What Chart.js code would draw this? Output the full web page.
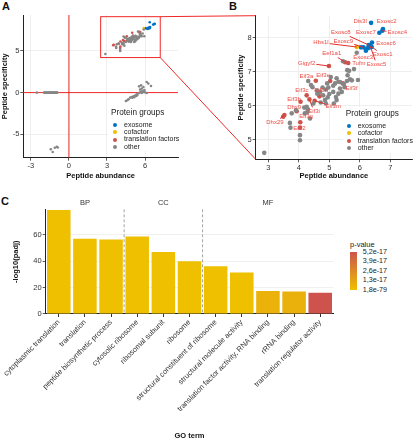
<!DOCTYPE html>
<html>
<head>
<meta charset="utf-8">
<script src="https://cdn.jsdelivr.net/npm/chart.js@4.4.1/dist/chart.umd.min.js"></script>
<style>
  body { margin: 0; width: 420px; height: 440px; background: #fff; position: relative; overflow: hidden;
         font-family: "Liberation Sans", Arial, sans-serif; color: #222; }
  canvas { position: absolute; }
  .tag { position: absolute; font-weight: bold; font-size: 11px; line-height: 11px; color: #111; }
  .box { position: absolute; background: #fff; }
  .txt { position: absolute; white-space: nowrap; }
</style>
</head>
<body>
<div class="tag" style="left:2px;top:1px">A</div>
<div class="tag" style="left:229px;top:1px">B</div>
<div class="tag" style="left:1px;top:196px">C</div>
<canvas id="chartA" width="210" height="190" style="left:0;top:0"></canvas>
<canvas id="chartB" width="210" height="190" style="left:210px;top:0"></canvas>
<canvas id="chartC" width="345" height="242" style="left:0;top:198px"></canvas>
<canvas id="overlay" width="420" height="440" style="left:0;top:0;pointer-events:none;z-index:1"></canvas>
<script>
// protein groups
const groupNames = ["exosome", "cofactor", "translation factors", "other"];
const groupColors = ["#0073C2", "#EFC000", "#CD534C", "#868686"];

// upper cluster (shown in A and zoomed in B)
const exosomeAbund = [6.37, 6.76, 6.74, 6.64, 6.40, 6.29, 6.34, 6.39, 6.30, 6.25, 6.12, 6.20, 6.04];
const exosomeSpec = [8.44, 8.26, 8.21, 8.15, 7.86, 7.79, 7.76, 7.73, 7.71, 7.69, 7.72, 7.62, 7.72];
const cofactorAbund = [5.90];
const cofactorSpec = [7.73];
const factorAbund = [5.52, 5.62, 4.99, 4.56, 5.03, 5.44, 4.26, 4.68, 4.06, 4.52, 4.35, 3.93, 4.05, 3.53, 4.04, 3.49];
const factorSpec = [7.28, 7.26, 7.17, 6.74, 6.73, 6.66, 6.31, 6.28, 6.12, 6.15, 6.19, 5.84, 5.52, 5.73, 5.36, 5.68];
const otherAbund = [5.90, 5.45, 5.59, 5.65, 5.81, 5.68, 5.74, 5.94, 5.58, 5.48, 5.24, 5.30, 5.19, 5.13, 4.93, 4.97,
  4.89, 4.78, 4.70, 4.80, 4.61, 4.31, 4.40, 5.13, 5.22, 5.24, 5.15, 4.86, 4.89, 5.35, 5.41, 5.30, 4.48, 4.26, 4.28,
  4.20, 3.91, 3.77, 3.71, 3.73, 4.37, 4.04, 4.04, 2.87, 5.05, 5.60, 5.00, 4.95, 4.60, 4.45, 4.30, 5.50, 5.35, 4.72, 4.18];
const otherSpec = [7.56, 7.31, 7.05, 7.03, 7.08, 6.78, 6.75, 6.76, 6.73, 6.65, 6.81, 6.71, 6.66, 6.59, 6.66, 6.54,
  6.48, 6.54, 6.41, 6.31, 6.36, 6.73, 6.61, 6.41, 6.26, 6.17, 6.07, 6.17, 6.07, 6.51, 6.41, 6.36, 6.07, 5.97, 5.82,
  5.78, 5.87, 5.78, 5.50, 5.36, 5.63, 5.14, 4.99, 4.62, 6.85, 6.90, 6.35, 6.25, 6.45, 6.55, 5.90, 6.55, 6.70, 6.10, 5.95];

// other clusters only in A (all "other")
const midAbund = [4.49, 4.62, 4.70, 4.83, 4.96, 5.09, 5.22, 5.35, 5.40, 5.53, 5.74, 5.87, 6.00, 6.13,
  5.61, 5.74, 5.53, 5.69, 5.87, 6.13, 6.26, 6.47, 5.30, 5.15, 5.00, 5.80, 5.95, 5.65];
const midSpec = [-1.00, -0.90, -0.80, -0.60, -0.52, -0.44, -0.36, -0.20, -0.30, -0.05, -0.05, 0.07, 0.04, -0.05,
  0.36, 0.48, 0.75, 0.87, 0.67, 1.27, 1.08, 0.79, -0.40, -0.55, -0.62, 0.20, 0.30, 0.10];
const lineAbund = [-2.53, -1.97, -1.91, -1.86, -1.79, -1.73, -1.68, -1.61, -1.55, -1.50, -1.43, -1.37, -1.31,
  -1.26, -1.19, -1.13, -1.07, -1.02, -0.96, -0.92];
const lineSpec = [0, 0, 0, 0, 0, 0, 0, 0, 0, 0, 0, 0, 0, 0, 0, 0, 0, 0, 0, 0];
const lowAbund = [-1.43, -1.28, -1.12, -0.96, -0.88];
const lowSpec = [-6.78, -7.12, -6.60, -6.48, -6.58];

// zoom window drawn in A
const zoomAbund = [2.5, 7.2];
const zoomSpec = [4.2, 9.1];

// ticks
const ticksAX = [-3, 0, 3, 6];
const ticksAY = [-5, 0, 5];
const ticksBX = [3, 4, 5, 6, 7];
const ticksBY = [5, 6, 7, 8];

// gene labels in B: name, group, index in its group, label anchor
const geneNames = ["Dis3l", "Exosc2", "Exosc4", "Exosc7", "Exosc6", "Exosc8", "Exosc5", "Exosc1", "Exosc9", "Exosc3",
  "Hbs1l", "Eef1a1", "Tufm", "Gigyf2", "Eif3a", "Eif3e", "Eif3f", "Eif3c", "Eif3h", "Eif3b", "Eif3m", "Eif3i",
  "Dhx9", "Eif3g", "Dhx29", "Eef2"];
const geneGroup = [0, 0, 0, 0, 0, 0, 0, 0, 0, 0, 1, 2, 2, 2, 2, 2, 2, 2, 2, 2, 2, 2, 2, 2, 2, 2];
const geneIndex = [0, 1, 2, 3, 4, 5, 6, 7, 10, 11, 0, 0, 1, 2, 3, 4, 5, 6, 7, 8, 9, 10, 11, 12, 13, 14];
const labelAbund = [6.01, 6.88, 7.23, 6.20, 6.86, 5.38, 6.55, 6.75, 5.46, 6.11, 4.73, 5.08, 5.97, 4.26, 4.25, 4.80,
  5.73, 4.10, 4.73, 3.85, 5.13, 4.50, 3.85, 4.24, 3.22, 4.02];
const labelSpec = [8.47, 8.47, 8.15, 8.16, 7.84, 8.16, 7.22, 7.51, 7.91, 7.44, 7.86, 7.54, 7.25, 7.26, 6.87, 6.90,
  6.51, 6.46, 6.46, 6.20, 5.99, 5.84, 5.95, 5.70, 5.51, 5.35];

// GO enrichment (C)
const goTerms = ["cytoplasmic translation", "translation", "peptide biosynthetic process", "cytosolic ribosome",
  "ribosomal subunit", "ribosome", "structural constituent of ribosome", "structural molecule activity",
  "translation factor activity, RNA binding", "rRNA binding", "translation regulator activity"];
const goOntology = ["BP", "BP", "BP", "CC", "CC", "CC", "MF", "MF", "MF", "MF", "MF"];
const goScore = [79, 57.1, 56.6, 58.9, 47, 40, 36.2, 31.5, 17.4, 17.1, 16.1];
const goPValue = [1.8e-79, 1e-57, 1e-57, 1e-59, 1e-47, 1e-40, 1e-36, 1e-32, 6.5e-18, 7.5e-18, 5.2e-17];
const ticksCY = [0, 20, 40, 60];
const pTickValues = [5.2e-17, 3.9e-17, 2.6e-17, 1.3e-17, 1.8e-79];
const pTickLabels = ["5,2e-17", "3,9e-17", "2,6e-17", "1,3e-17", "1,8e-79"];

Chart.defaults.font.family = '"Liberation Sans", Arial, sans-serif';

const pts = (xs, ys) => xs.map((x, i) => ({ x: x, y: ys[i] }));

const axis = (min, max, ticks, title, size, titlePad) => ({
  type: "linear",
  min: min,
  max: max,
  afterBuildTicks: (s) => { s.ticks = ticks.map((v) => ({ value: v })); },
  afterFit: (s) => { if (s.isHorizontal()) s.height = size; else s.width = size; },
  border: { display: true, color: "#222", width: 1 },
  grid: { color: "#ebebeb", lineWidth: 0.8, tickColor: "#333", tickLength: 3 },
  ticks: { color: "#333", font: { size: 7.5 }, padding: 1 },
  title: { display: true, text: title, color: "#111", font: { size: 7.5, weight: "bold" }, padding: titlePad },
});

const scatterSets = (groups, r) => groups.map((g, i) => ({
  data: g,
  pointRadius: r,
  pointBorderWidth: 0,
  pointBackgroundColor: groupColors[i],
  borderColor: groupColors[i],
}));

// red reference lines and zoom box in A
const refPlugin = {
  id: "ref",
  beforeDatasetsDraw(chart) {
    const { ctx, chartArea: a, scales: { x, y } } = chart;
    ctx.save();
    ctx.strokeStyle = "#F02828";
    ctx.lineWidth = 1;
    ctx.beginPath();
    ctx.moveTo(x.getPixelForValue(0), a.top);
    ctx.lineTo(x.getPixelForValue(0), a.bottom);
    ctx.moveTo(a.left, y.getPixelForValue(0));
    ctx.lineTo(a.right, y.getPixelForValue(0));
    ctx.stroke();
    ctx.restore();
  },
  afterDatasetsDraw(chart) {
    const { ctx, scales: { x, y } } = chart;
    const l = x.getPixelForValue(zoomAbund[0]), r = x.getPixelForValue(zoomAbund[1]);
    const t = y.getPixelForValue(zoomSpec[1]), b = y.getPixelForValue(zoomSpec[0]);
    ctx.save();
    ctx.strokeStyle = "#F02828";
    ctx.lineWidth = 1;
    ctx.strokeRect(l, t, r - l, b - t);
    ctx.restore();
  },
};

const groupAbund = [exosomeAbund, cofactorAbund, factorAbund];
const groupSpec = [exosomeSpec, cofactorSpec, factorSpec];

// gene labels with repel-like segments in B
const labelPlugin = {
  id: "labels",
  afterDatasetsDraw(chart) {
    const { ctx, scales: { x, y } } = chart;
    ctx.save();
    ctx.font = '6px "Liberation Sans", Arial, sans-serif';
    ctx.textAlign = "center";
    ctx.textBaseline = "middle";
    geneNames.forEach((name, i) => {
      const g = geneGroup[i], k = geneIndex[i];
      const px = x.getPixelForValue(groupAbund[g][k]);
      const py = y.getPixelForValue(groupSpec[g][k]);
      const lx = x.getPixelForValue(labelAbund[i]);
      const ly = y.getPixelForValue(labelSpec[i]);
      const w = ctx.measureText(name).width / 2 + 1, h = 4;
      const dx = px - lx, dy = py - ly;
      const t = Math.min(dx ? w / Math.abs(dx) : 99, dy ? h / Math.abs(dy) : 99);
      if (t < 1 && Math.hypot(dx, dy) * (1 - t) > 4) {
        ctx.strokeStyle = "#E0302C";
        ctx.lineWidth = 1;
        ctx.beginPath();
        ctx.moveTo(lx + dx * t, ly + dy * t);
        ctx.lineTo(px, py);
        ctx.stroke();
      }
      ctx.fillStyle = "#EE4A44";
      ctx.fillText(name, lx, ly);
    });
    ctx.restore();
  },
};

const chartA = new Chart(document.getElementById("chartA"), {
  type: "scatter",
  data: {
    datasets: scatterSets([
      pts(exosomeAbund, exosomeSpec),
      pts(cofactorAbund, cofactorSpec),
      pts(factorAbund, factorSpec),
      pts(otherAbund.concat(midAbund, lineAbund, lowAbund), otherSpec.concat(midSpec, lineSpec, lowSpec)),
    ], 1.3).reverse(),
  },
  options: {
    animation: false,
    responsive: false,
    layout: { padding: { left: 0, top: 15, right: 32, bottom: 9.7 } },
    plugins: { legend: { display: false }, tooltip: { enabled: false } },
    scales: {
      x: axis(-3.6, 8.6, ticksAX, "Peptide abundance", 22.6, { top: 0, bottom: 0 }),
      y: axis(-7.8, 9.3, ticksAY, "Peptide specificity", 23.3, { top: 0, bottom: 0 }),
    },
  },
  plugins: [refPlugin],
});

const chartB = new Chart(document.getElementById("chartB"), {
  type: "scatter",
  data: {
    datasets: scatterSets([
      pts(exosomeAbund, exosomeSpec),
      pts(cofactorAbund, cofactorSpec),
      pts(factorAbund, factorSpec),
      pts(otherAbund, otherSpec),
    ], 2.3).reverse(),
  },
  options: {
    animation: false,
    responsive: false,
    layout: { padding: { left: 24, top: 15.7, right: 8, bottom: 9.7 } },
    plugins: { legend: { display: false }, tooltip: { enabled: false } },
    scales: {
      x: axis(2.59, 7.71, ticksBX, "Peptide abundance", 21, { top: 0, bottom: 0 }),
      y: axis(4.43, 8.65, ticksBY, "Peptide specificity", 21.7, { top: 2, bottom: 0 }),
    },
  },
  plugins: [labelPlugin],
});

// p-value colour scale
const pMin = Math.min(...pTickValues), pMax = Math.max(...pTickValues);
const lowRGB = [239, 192, 0], highRGB = [205, 83, 76];
const pColor = (p) => {
  const t = Math.max(0, Math.min(1, (p - pMin) / (pMax - pMin)));
  const c = lowRGB.map((v, i) => Math.round(v + (highRGB[i] - v) * t));
  return `rgb(${c[0]},${c[1]},${c[2]})`;
};

// dashed facet separators and strip labels
const facetPlugin = {
  id: "facets",
  afterDraw(chart) {
    const { ctx, chartArea: a, scales: { x } } = chart;
    ctx.save();
    ctx.strokeStyle = "#9a9a9a";
    ctx.lineWidth = 0.9;
    ctx.setLineDash([3, 2]);
    let start = 0;
    ctx.font = '7.5px "Liberation Sans", Arial, sans-serif';
    ctx.fillStyle = "#333";
    ctx.textAlign = "center";
    ctx.textBaseline = "middle";
    for (let i = 1; i <= goOntology.length; i++) {
      if (i === goOntology.length || goOntology[i] !== goOntology[i - 1]) {
        const cx = (x.getPixelForValue(start) + x.getPixelForValue(i - 1)) / 2;
        ctx.fillText(goOntology[start], cx, a.top - 6);
        if (i < goOntology.length) {
          const sx = (x.getPixelForValue(i - 1) + x.getPixelForValue(i)) / 2;
          ctx.beginPath();
          ctx.moveTo(sx, a.top);
          ctx.lineTo(sx, a.bottom);
          ctx.stroke();
        }
        start = i;
      }
    }
    ctx.restore();
  },
};

new Chart(document.getElementById("chartC"), {
  type: "bar",
  data: {
    labels: goTerms,
    datasets: [{
      data: goScore,
      backgroundColor: goPValue.map(pColor),
      borderWidth: 0,
      categoryPercentage: 1,
      barPercentage: 0.9,
    }],
  },
  options: {
    animation: false,
    responsive: false,
    layout: { padding: { left: 0, top: 11.3, right: 11.7, bottom: 0 } },
    plugins: { legend: { display: false }, tooltip: { enabled: false } },
    scales: {
      x: {
        afterFit: (s) => { s.height = 126; },
        border: { display: true, color: "#222", width: 1 },
        grid: { display: true, drawOnChartArea: false, offset: false, tickColor: "#333", tickLength: 3 },
        ticks: { autoSkip: false, minRotation: 45, maxRotation: 45, color: "#333", font: { size: 7.5 }, padding: 1 },
        title: { display: true, text: "GO term", color: "#111", font: { size: 7.5, weight: "bold" }, padding: { top: 0, bottom: 0 } },
      },
      y: {
        min: 0,
        max: 79.5,
        afterBuildTicks: (s) => { s.ticks = ticksCY.map((v) => ({ value: v })); },
        afterFit: (s) => { s.width = 45.7; },
        border: { display: true, color: "#222", width: 1 },
        grid: { color: "#ececec", lineWidth: 0.8, tickColor: "#333", tickLength: 3 },
        ticks: { color: "#333", font: { size: 7.5 }, padding: 1 },
        title: { display: true, text: "-log10(padj)", color: "#111", font: { size: 7.5, weight: "bold" }, padding: { top: 11, bottom: 0 } },
      },
    },
  },
  plugins: [facetPlugin],
});

// zoom connectors from A to B
const ov = document.getElementById("overlay").getContext("2d");
const rx = chartA.scales.x.getPixelForValue(zoomAbund[1]);
const rt = chartA.scales.y.getPixelForValue(zoomSpec[1]);
const rb = chartA.scales.y.getPixelForValue(zoomSpec[0]);
const bArea = chartB.chartArea;
ov.strokeStyle = "#F02828";
ov.lineWidth = 1;
ov.beginPath();
ov.moveTo(rx, rt);
ov.lineTo(210 + bArea.left, bArea.top);
ov.moveTo(rx, rb);
ov.lineTo(210 + bArea.left, bArea.bottom);
ov.stroke();

// protein group legends (A and B)
const addText = (text, left, cy, size, extra) => {
  const d = document.createElement("div");
  d.className = "txt";
  d.textContent = text;
  d.style.cssText += `left:${left}px;top:${cy - size * 0.6}px;font-size:${size}px;line-height:${size * 1.2}px;` + (extra || "");
  document.body.appendChild(d);
  return d;
};
const addLegend = (boxL, boxT, boxW, boxH, titleL, titleY, dotX, textL, rowY, rowGap) => {
  const box = document.createElement("div");
  box.className = "box";
  box.style.cssText = `left:${boxL}px;top:${boxT}px;width:${boxW}px;height:${boxH}px;z-index:2`;
  document.body.appendChild(box);
  addText("Protein groups", titleL, titleY, 8.2, "z-index:3;color:#222");
  groupNames.forEach((name, i) => {
    const cy = rowY + i * rowGap;
    const dot = document.createElement("div");
    dot.style.cssText = `position:absolute;left:${dotX - 2}px;top:${cy - 2}px;width:4px;height:4px;border-radius:2px;background:${groupColors[i]};z-index:3`;
    document.body.appendChild(dot);
    addText(name, textL, cy, 7, "z-index:3;color:#222");
  });
};
addLegend(108, 106, 76, 45, 111, 112.7, 115.3, 124, 125, 7.33);
addLegend(343, 107, 77, 46, 345.7, 114, 349.3, 357.7, 126, 7.45);

// p-value colour bar legend (C)
const barTop = 252.3, barH = 37.7;
addText("p-value", 350, 244, 7.5, "color:#222");
const bar = document.createElement("div");
bar.style.cssText = `position:absolute;left:350.3px;top:${barTop}px;width:7px;height:${barH}px;` +
  `background:linear-gradient(to bottom, ${pColor(pMax)}, ${pColor(pMin)})`;
document.body.appendChild(bar);
pTickValues.forEach((v, i) => {
  const cy = barTop + (1 - (v - pMin) / (pMax - pMin)) * barH;
  addText(pTickLabels[i], 362.7, cy, 7.2, "color:#222");
});
</script>
</body>
</html>
